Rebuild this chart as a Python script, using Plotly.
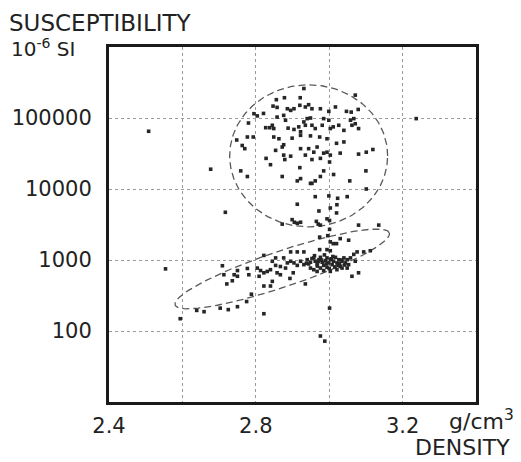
import numpy as np
import plotly.graph_objects as go

# ---------------- data ----------------
density = [
    # outliers
    2.508, 3.237, 2.677, 2.717, 2.554, 2.594, 3.001, 2.976, 2.988, 2.822,
    # upper cluster
    2.931, 3.071, 2.856, 2.878, 2.921, 3.079, 2.795, 2.804, 2.821, 2.847,
    2.858, 2.886, 2.895, 2.904, 2.920, 2.935, 2.944, 2.953, 2.976, 2.999,
    3.017, 3.047, 3.060, 2.780, 2.827, 2.838, 2.845, 2.849, 2.858, 2.876,
    2.881, 2.888, 2.904, 2.917, 2.922, 2.931, 2.935, 2.940, 2.949, 2.953,
    2.962, 2.981, 2.985, 2.999, 3.003, 3.011, 3.026, 3.040, 3.058, 3.067,
    3.071, 3.080, 3.062, 2.777, 2.793, 2.748, 2.763, 2.770, 2.849, 2.863,
    2.876, 2.899, 2.922, 2.949, 2.974, 2.994, 3.020, 3.040, 2.854, 2.876,
    2.879, 2.872, 2.922, 2.944, 2.967, 2.985, 2.994, 3.003, 3.030, 3.080,
    3.101, 3.119, 2.828, 2.840, 2.895, 2.935, 2.958, 2.953, 2.976, 3.001,
    2.759, 2.777, 2.872, 2.920, 2.913, 2.922, 2.949, 2.953, 2.962, 2.976,
    2.985, 3.012, 3.056, 3.100, 3.101, 2.962, 2.999, 3.023, 3.049, 2.913,
    2.972, 3.003, 3.020, 3.021,
    # transition
    2.899, 2.905, 2.913, 2.922, 2.872, 2.965, 2.970, 2.976, 2.994, 3.001,
    3.080, 3.135, 2.974, 2.996, 3.003, 3.011, 3.020, 3.030, 3.053, 3.001,
    # lower cluster
    2.974, 2.994, 3.003, 2.895, 2.913, 2.931, 2.822, 2.854, 2.876, 2.895,
    2.904, 2.913, 2.922, 2.931, 2.940, 2.949, 2.958, 2.962, 2.967, 2.972,
    2.976, 2.981, 2.985, 2.990, 2.994, 2.999, 3.003, 3.008, 3.012, 3.017,
    3.021, 3.026, 3.030, 3.035, 3.040, 3.044, 3.049, 3.053, 3.058, 3.067,
    3.076, 3.094, 3.112, 2.949, 2.958, 2.967, 2.976, 2.985, 2.994, 3.003,
    3.021, 3.035, 3.049, 2.845, 2.854, 2.867, 2.881, 2.886, 2.804, 2.813,
    2.822, 2.831, 2.840, 2.777, 2.750, 2.741, 2.709, 2.713, 2.721, 2.736,
    2.750, 2.781, 2.809, 2.822, 2.840, 2.845, 2.893, 2.902, 2.935, 3.062,
    3.080, 3.071, 2.858, 2.867,
    2.944, 2.953, 2.968, 2.979, 2.992, 3.006, 3.015, 3.028, 3.042, 2.960,
    2.987, 3.010, 3.033, 2.938, 2.970, 3.000, 3.024,
    # lower tail
    2.639, 2.659, 2.703, 2.725, 2.750, 2.775, 2.788,
]

susceptibility = [
    # outliers
    65000, 98000, 19000, 4700, 750, 149, 210, 85, 72, 175,
    # upper cluster
    260000, 210000, 181000, 193000, 193000, 132000, 115000, 107000, 116000, 147000,
    141000, 135000, 128000, 135000, 151000, 143000, 154000, 135000, 135000, 124000,
    143000, 124000, 121000, 85000, 73000, 73000, 79000, 71000, 103000, 109000,
    93000, 72000, 69000, 75000, 64000, 88000, 79000, 98000, 100000, 79000,
    71000, 79000, 98000, 93000, 71000, 75000, 79000, 67000, 93000, 98000,
    83000, 71000, 79000, 54000, 54000, 49000, 41000, 37000, 54000, 51000,
    42000, 52000, 57000, 56000, 54000, 51000, 44000, 46000, 35000, 30000,
    26000, 39000, 37000, 37000, 39000, 32000, 33000, 30000, 32000, 31000,
    33000, 36000, 27000, 22000, 29000, 30000, 33000, 26000, 27000, 24000,
    18000, 15000, 15000, 20000, 13000, 14000, 12000, 12000, 13000, 15000,
    18000, 16000, 13000, 18000, 10000, 7800, 8000, 7400, 7800, 6100,
    4900, 5400, 4600, 6000,
    # transition
    3700, 3400, 3300, 3400, 3200, 3500, 3200, 3100, 3800, 3600,
    3100, 3100, 2100, 2200, 1800, 1700, 1700, 2000, 1900, 2700,
    # lower cluster
    1400, 1400, 1350, 1300, 1300, 1300, 1160, 1070, 1070, 960,
    910, 840, 960, 860, 1010, 930, 1070, 960, 860, 1010,
    1090, 930, 840, 980, 1070, 910, 1010, 860, 960, 1090,
    910, 1010, 810, 960, 1070, 910, 1010, 860, 1070, 1200,
    1300, 1300, 1350, 770, 730, 690, 770, 710, 790, 690,
    730, 770, 770, 960, 840, 810, 770, 910, 770, 710,
    660, 690, 730, 760, 710, 620, 830, 620, 460, 510,
    590, 620, 590, 430, 430, 500, 550, 660, 460, 590,
    660, 960, 660, 620,
    880, 1050, 820, 1000, 880, 1040, 800, 890, 850, 1150,
    1180, 1120, 1000, 900, 950, 760, 840,
    # lower tail
    195, 187, 210, 200, 220, 260, 330,
]

x_ticks = [2.4, 2.8, 3.2]
x_ticktext = ["2.4", "2.8", "3.2"]
x_minor_grid = [2.6, 3.0]
y_ticks = [100, 1000, 10000, 100000]
y_ticktext = ["100", "1000", "10000", "100000"]

# group outlines: centre (density, log10 susceptibility), semi-axes (px), tilt (deg)
ellipse_upper = dict(cx=2.944, cly=4.467, a=79, b=71, angle=0)
ellipse_lower = dict(cx=2.872, cly=2.874, a=113, b=18, angle=18.6)

# ---------------- layout geometry ----------------
W, H = 521, 462
ML, MR, MT, MB = 109, 45, 47, 60
XR = [2.4, 3.4]
YR = [1, 6]  # log10
pw, ph = W - ML - MR, H - MT - MB
px_x = pw / (XR[1] - XR[0])
px_y = ph / (YR[1] - YR[0])


def ellipse(p):
    t = np.linspace(0, 2 * np.pi, 200)
    th = np.radians(p["angle"])
    X = p["a"] * np.cos(t) * np.cos(th) - p["b"] * np.sin(t) * np.sin(th)
    Y = p["a"] * np.cos(t) * np.sin(th) + p["b"] * np.sin(t) * np.cos(th)
    return p["cx"] + X / px_x, 10 ** (p["cly"] + Y / px_y)


fig = go.Figure()
for p in (ellipse_upper, ellipse_lower):
    ex, ey = ellipse(p)
    fig.add_trace(go.Scatter(x=ex, y=ey, mode="lines",
                             line=dict(color="#5a5a5a", width=1.3, dash="7px,4px"),
                             hoverinfo="skip", showlegend=False))

fig.add_trace(go.Scatter(x=density, y=susceptibility, mode="markers",
                         marker=dict(symbol="square", size=3.6, color="#262626",
                                     line=dict(width=0)),
                         showlegend=False))

FONT = "DejaVu Sans"
TXT = "#222222"
GRID = dict(gridcolor="#9a9a9a", griddash="dot", gridwidth=1)

fig.update_layout(
    width=W, height=H,
    margin=dict(l=ML, r=MR, t=MT, b=MB),
    paper_bgcolor="white", plot_bgcolor="white",
    font=dict(family=FONT, size=21, color=TXT),
    xaxis=dict(range=XR, tickvals=x_ticks, ticktext=x_ticktext,
               showgrid=True, **GRID,
               minor=dict(tickvals=x_minor_grid, showgrid=True, ticks="", **GRID),
               showline=True, linecolor="#1a1a1a", linewidth=3, mirror=True,
               ticks="", zeroline=False, ticklabelstandoff=3,
               tickfont=dict(family=FONT, size=21, color=TXT)),
    yaxis=dict(type="log", range=YR, tickvals=y_ticks, ticktext=y_ticktext,
               showgrid=True, **GRID,
               showline=True, linecolor="#1a1a1a", linewidth=3, mirror=True,
               ticks="", zeroline=False, ticklabelstandoff=10,
               tickfont=dict(family=FONT, size=21, color=TXT)),
)


def px2paper(x, y):
    return (x - ML) / pw, 1 - (y - MT) / ph


anns = [
    ("SUSCEPTIBILITY", 7, 8, "left", "top", 23),
    ("10<sup>-6</sup> SI", 9, 33, "left", "top", 20),
    ("g/cm<sup>3</sup>", 516, 404, "right", "top", 22),
    ("DENSITY", 512, 433, "right", "top", 22),
]
for text, x, y, xa, ya, sz in anns:
    px, py = px2paper(x, y)
    fig.add_annotation(text=text, x=px, y=py, xref="paper", yref="paper",
                       xanchor=xa, yanchor=ya, showarrow=False,
                       font=dict(family=FONT, size=sz, color=TXT))

fig.write_html("out.html")
